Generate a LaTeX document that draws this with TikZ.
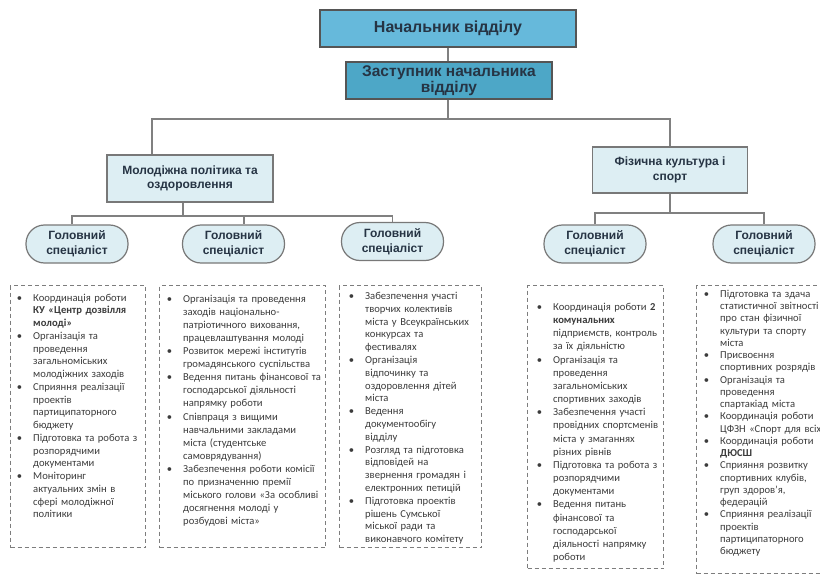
\documentclass[tikz,border=0pt]{standalone}
\usepackage{fontspec}
\setmainfont{Carlito}
\newfontfamily\hfont{Liberation Sans}
\newlength\jw
\newcommand\bu{\leavevmode\llap{\textbullet\hspace{11pt}}}
\newcommand\jl[1]{\makebox[\jw][s]{#1}}
\definecolor{topblue}{RGB}{102,185,219}
\definecolor{depblue}{RGB}{77,167,199}
\definecolor{lightblue}{RGB}{221,238,243}
\definecolor{headtext}{RGB}{38,52,68}
\definecolor{edgegray}{RGB}{85,85,85}
\definecolor{midedge}{RGB}{120,120,120}
\definecolor{conngray}{RGB}{128,128,128}
\definecolor{bodytext}{RGB}{60,60,60}
\definecolor{dashgray}{RGB}{125,125,125}
\begin{document}
\begin{tikzpicture}[x=1pt,y=-1pt,
  headA/.style={draw=edgegray, line width=1.2pt, fill=topblue, text=headtext,
    font=\hfont\bfseries\fontsize{16}{17}\selectfont, inner sep=0pt, align=center},
  midbox/.style={draw=midedge, line width=1.2pt, fill=lightblue, text=headtext,
    font=\hfont\bfseries\fontsize{12}{14.5}\selectfont, inner sep=0pt, align=center},
  spec/.style={midbox, rounded corners=18.5pt, minimum width=102pt, minimum height=38pt,
    font=\hfont\bfseries\fontsize{12}{15}\selectfont},
  conn/.style={draw=conngray, line width=1.2pt},
  dbox/.style={draw=dashgray, line width=1pt, dash pattern=on 4pt off 3pt, inner sep=0pt, anchor=north west},
  btext/.style={anchor=base west, inner sep=0pt, text width=200pt, align=left, text=bodytext}]
\useasboundingbox (0,0) rectangle (820,578);
\fill[white] (0,0) rectangle (820,578);
\clip (0,0) rectangle (820,578);

% headings
\node[headA, minimum width=256pt, minimum height=37pt] (boss) at (448,28.5) {Начальник відділу};
\node[headA, fill=depblue, minimum width=206pt, minimum height=37pt,
  font=\hfont\bfseries\fontsize{15.5}{16}\selectfont] (dep) at (449,80.5) {Заступник начальника\\відділу};
\node[midbox, minimum width=166pt, minimum height=47pt] (mol) at (190,178.5) {Молодіжна політика та\\оздоровлення};
\node[midbox, minimum width=155pt, minimum height=46pt] (fiz) at (670,170) {Фізична культура і\\спорт};

\node[spec] (g1) at (77,244) {Головний\\спеціаліст};
\node[spec] (g2) at (233.5,244) {Головний\\спеціаліст};
\node[spec] (g3) at (392.5,241.5) {Головний\\спеціаліст};
\node[spec] (g4) at (595,244) {Головний\\спеціаліст};
\node[spec] (g5) at (764,244) {Головний\\спеціаліст};

% connectors
\coordinate (j0) at (448,119);
\coordinate (jm) at (152,119);
\coordinate (j1) at (183,216);
\coordinate (j1a) at (72,216);
\coordinate (j1b) at (244,216);
\coordinate (j2) at (670,213);
\draw[conn] (boss.south) -- (boss.south |- dep.north);
\draw[conn] (dep.south -| j0) -- (j0);
\draw[conn] (mol.north -| jm) -- (jm) -- (j0) -| (fiz.north);
\draw[conn] (mol.south -| j1) -- (j1);
\draw[conn] (g1.north -| j1a) -- (j1a) -- (j1) -| (g3.north);
\draw[conn] (j1b) -- (g2.north -| j1b);
\draw[conn] (fiz.south) -- (j2);
\draw[conn] (g4.north) |- (j2) -| (g5.north);

% dashed frames
\node[dbox, minimum width=135pt, minimum height=262pt] (f1) at (10,285) {};
\node[dbox, minimum width=166pt, minimum height=262pt] (f2) at (159,285) {};
\node[dbox, minimum width=142pt, minimum height=262pt] (f3) at (339,285) {};
\node[dbox, minimum width=136pt, minimum height=283pt] (f4) at (527,285) {};
\node[dbox, minimum width=140pt, minimum height=288pt] (f5) at (696,285) {};

% texts
\node[btext, font=\fontsize{10.6}{12.76}\selectfont] (t1) at (33,301) {%
\bu Координація роботи\\
\textbf{КУ «Центр дозвілля}\\
\textbf{молоді»}\\
\bu Організація та\\
проведення\\
загальноміських\\
молодіжних заходів\\
\bu Сприяння реалізації\\
проектів\\
партиципаторного\\
бюджету\\
\bu Підготовка та робота з\\
розпорядчими\\
документами\\
\bu Моніторинг\\
актуальних змін в\\
сфері молодіжної\\
політики};

\node[btext, font=\fontsize{10.6}{13.06}\selectfont] (t2) at (183,302.5) {%
\bu Організація та проведення\\
заходів національно-\\
патріотичного виховання,\\
працевлаштування молоді\\
\bu Розвиток мережі інститутів\\
громадянського суспільства\\
\bu Ведення питань фінансової та\\
господарської діяльності\\
напрямку роботи\\
\bu Співпраця з вищими\\
навчальними закладами\\
міста (студентське\\
самоврядування)\\
\bu Забезпечення роботи комісії\\
по призначенню премії\\
міського голови «За особливі\\
досягнення молоді у\\
розбудові міста»};

\node[btext, font=\fontsize{10.6}{12.8}\selectfont] (t3) at (365,299.5) {%
\bu Забезпечення участі\\
творчих колективів\\
міста у Всеукраїнських\\
конкурсах та\\
фестивалях\\
\bu Організація\\
відпочинку та\\
оздоровлення дітей\\
міста\\
\bu Ведення\\
документообігу\\
відділу\\
\bu Розгляд та підготовка\\
відповідей на\\
звернення громадян і\\
електронних петицій\\
\bu Підготовка проектів\\
рішень Сумської\\
міської ради та\\
виконавчого комітету};

\node[btext, font=\fontsize{10.6}{13.16}\selectfont] (t4) at (553,310.5) {%
\setlength\jw{105pt}%
\bu\jl{Координація роботи \textbf{2}}\\
\textbf{комунальних}\\
\jl{підприємств, контроль}\\
за їх діяльністю\\
\bu\jl{Організація та}\\
проведення\\
загальноміських\\
спортивних заходів\\
\bu\jl{Забезпечення участі}\\
\jl{провідних спортсменів}\\
\jl{міста у змаганнях}\\
різних рівнів\\
\bu\jl{Підготовка та робота з}\\
розпорядчими\\
документами\\
\bu\jl{Ведення питань}\\
\jl{фінансової та}\\
господарської\\
\jl{діяльності напрямку}\\
роботи};

\node[btext, font=\fontsize{10.6}{12.24}\selectfont] (t5) at (720,297.5) {%
\setlength\jw{106pt}%
\bu\jl{Підготовка та здача}\\
\jl{статистичної звітності}\\
\jl{про стан фізичної}\\
\jl{культури та спорту}\\
міста\\
\bu Присвоєння\\
спортивних розрядів\\
\bu\jl{Організація та}\\
проведення\\
спартакіад міста\\
\bu\jl{Координація роботи}\\
ЦФЗН «Спорт для всіх»\\
\bu\jl{Координація роботи}\\
\textbf{ДЮСШ}\\
\bu\jl{Сприяння розвитку}\\
\jl{спортивних клубів,}\\
\jl{груп здоров’я,}\\
федерацій\\
\bu\jl{Сприяння реалізації}\\
проектів\\
партиципаторного\\
бюджету};
\end{tikzpicture}
\end{document}
